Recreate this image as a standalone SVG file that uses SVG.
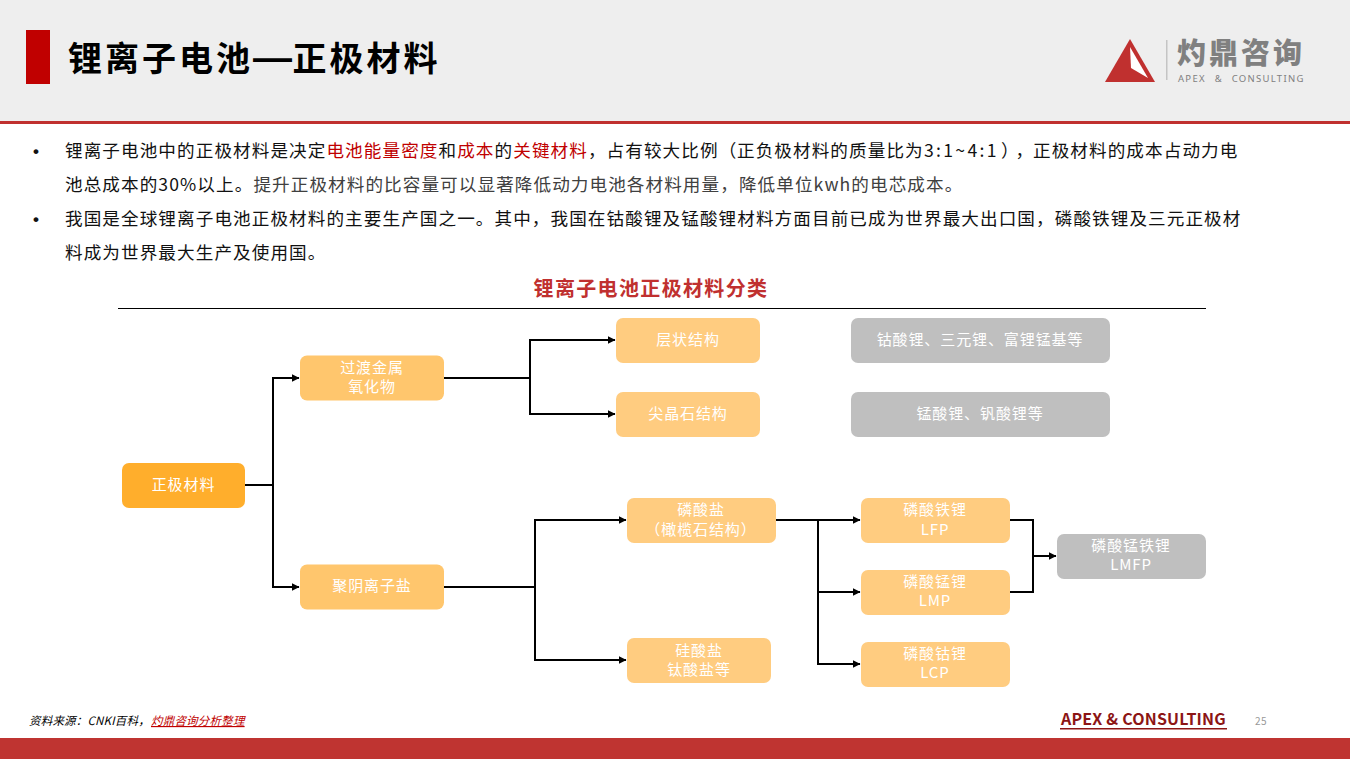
<svg xmlns="http://www.w3.org/2000/svg" width="1350" height="759" viewBox="0 0 1350 759">
<style>
text{font-family:"Noto Sans CJK SC","Noto Sans",sans-serif}
.b{font-size:17.6px;letter-spacing:1.08px;fill:#111;text-spacing-trim:space-all}
.d{font-family:"Liberation Sans",sans-serif;font-size:17px;font-weight:700;fill:#111}
.r{fill:#c00000}
.g{fill:#404040}
.n{font-size:15px;letter-spacing:.9px;fill:#fff;text-anchor:middle}
.o{fill:#ffcc80}
.o2{fill:#ffc66d}
.gr{fill:#bfbfbf}
.c{fill:none;stroke:#000;stroke-width:2}
</style>
<defs>
<marker id="a" markerUnits="userSpaceOnUse" markerWidth="10" markerHeight="9" refX="7.5" refY="4" orient="auto"><path d="M0 0L8 4L0 8Z" fill="#000"/></marker>
</defs>
<rect width="1350" height="122" fill="#eeeeee"/>
<rect y="121" width="1350" height="3" fill="#c0302f"/>
<rect x="26" y="30" width="24" height="54" fill="#c00000"/>
<text x="68" y="71" font-size="34" font-weight="700" letter-spacing="3" fill="#000">锂离子电池<tspan font-family="Liberation Sans" font-size="39" x="253">—</tspan><tspan x="292.500">正极材料</tspan></text>
<g id="logo">
<path d="M1130 39L1155 82H1105Z" fill="#c0302f"/>
<path d="M1130 47L1148 78L1131 68Z" fill="#fff"/>
<rect x="1166" y="40" width="1.5" height="40" fill="#c4c4c4"/>
<text x="1177" y="63.500" font-size="29" font-weight="900" letter-spacing="3" fill="#808080">灼鼎咨询</text>
<text x="1178" y="82" font-size="9.500" letter-spacing="1.3" word-spacing="5" fill="#808080" style="font-family:'Noto Sans',sans-serif">APEX &amp; CONSULTING</text>
</g>
<g id="bullets">
<text x="33" y="157" class="d">•</text>
<text x="65" y="157" class="b">锂离子电池中的正极材料是决定<tspan class="r">电池能量密度</tspan>和<tspan class="r">成本</tspan>的<tspan class="r">关键材料</tspan>，占有较大比例（<tspan x="737">正负极材料的质量比为</tspan><tspan x="924" letter-spacing="2.3">3:1~4:1</tspan><tspan x="1001" letter-spacing="-3">），</tspan><tspan x="1033">正极材料的成本占动力电</tspan></text>
<text x="65" y="191" class="b">池总成本的30%以上。<tspan class="g">提升正极材料的比容量可以显著降低动力电池各材料用量，降低单位kwh的电芯成本。</tspan></text>
<text x="33" y="225" class="d">•</text>
<text x="65" y="225" class="b">我国是全球锂离子电池正极材料的主要生产国之一。其中，我国在钴酸锂及锰酸锂材料方面目前已成为世界最大出口国，磷酸铁锂及三元正极材</text>
<text x="65" y="259" class="b">料成为世界最大生产及使用国。</text>
</g>
<text x="651" y="296" font-size="20" font-weight="700" letter-spacing="1.35" fill="#c0302f" text-anchor="middle">锂离子电池正极材料分类</text>
<line x1="118" y1="308.500" x2="1206" y2="308.500" stroke="#000" stroke-width="1"/>
<g id="connectors">
<path class="c" d="M245 485H273V378H299" marker-end="url(#a)"/>
<path class="c" d="M273 485V587H299" marker-end="url(#a)"/>
<path class="c" d="M444 378H530V340H615" marker-end="url(#a)"/>
<path class="c" d="M530 378V414H615" marker-end="url(#a)"/>
<path class="c" d="M444 587H535V520H626" marker-end="url(#a)"/>
<path class="c" d="M535 587V660H626" marker-end="url(#a)"/>
<path class="c" d="M776 520H860" marker-end="url(#a)"/>
<path class="c" d="M818 520V592H860" marker-end="url(#a)"/>
<path class="c" d="M818 592V664H860" marker-end="url(#a)"/>
<path class="c" d="M1010 520H1033V592H1010"/>
<path class="c" d="M1033 556H1056" marker-end="url(#a)"/>
</g>
<g id="n1"><rect x="122" y="463" width="123" height="45" rx="7" fill="#ffae2c"/><text x="183.500" y="490" class="n">正极材料</text></g>
<g id="n2"><rect x="300" y="355.500" width="144" height="45" rx="7" class="o2"/><text x="372" y="373" class="n">过渡金属</text><text x="372" y="392" class="n">氧化物</text></g>
<g id="n3"><rect x="300" y="564.500" width="144" height="45" rx="7" class="o2"/><text x="372" y="591" class="n">聚阴离子盐</text></g>
<g id="n4"><rect x="616" y="318" width="144" height="45" rx="7" class="o"/><text x="688" y="345" class="n">层状结构</text></g>
<g id="n5"><rect x="616" y="392" width="144" height="45" rx="7" class="o"/><text x="688" y="419" class="n">尖晶石结构</text></g>
<g id="n6"><rect x="851" y="318" width="259" height="45" rx="7" class="gr"/><text x="980" y="345" class="n">钴酸锂、三元锂、富锂锰基等</text></g>
<g id="n7"><rect x="851" y="392" width="259" height="45" rx="7" class="gr"/><text x="980" y="419" class="n">锰酸锂、钒酸锂等</text></g>
<g id="n8"><rect x="627" y="498" width="149" height="45" rx="7" class="o"/><text x="701" y="515" class="n">磷酸盐</text><text x="701" y="535" class="n">（橄榄石结构）</text></g>
<g id="n9"><rect x="627" y="638" width="144" height="45" rx="7" class="o"/><text x="699" y="656" class="n">硅酸盐</text><text x="699" y="675" class="n">钛酸盐等</text></g>
<g id="n10"><rect x="861" y="498" width="149" height="45" rx="7" class="o"/><text x="935" y="515" class="n">磷酸铁锂</text><text x="935" y="535" class="n">LFP</text></g>
<g id="n11"><rect x="861" y="570" width="149" height="45" rx="7" class="o"/><text x="935" y="587" class="n">磷酸锰锂</text><text x="935" y="606" class="n">LMP</text></g>
<g id="n12"><rect x="861" y="642" width="149" height="45" rx="7" class="o"/><text x="935" y="659" class="n">磷酸钴锂</text><text x="935" y="678" class="n">LCP</text></g>
<g id="n13"><rect x="1057" y="534" width="149" height="45" rx="7" class="gr"/><text x="1131" y="551" class="n">磷酸锰铁锂</text><text x="1131" y="570" class="n">LMFP</text></g>
<g id="footer">
<text x="29" y="725" font-size="11.500" font-style="italic" letter-spacing=".2" fill="#000">资料来源：CNKI百科，<tspan x="151" fill="#c00000" text-decoration="underline">灼鼎咨询分析整理</tspan></text>
<text x="1061" y="725" font-size="16" font-weight="700" letter-spacing=".18" fill="#8c1515">APEX &amp; CONSULTING</text>
<rect x="1060" y="728" width="167" height="1.500" fill="#8c1515"/>
<text x="1255" y="725" font-size="10" letter-spacing=".5" fill="#999">25</text>
<rect y="738" width="1350" height="21" fill="#bf3431"/>
</g>
</svg>
